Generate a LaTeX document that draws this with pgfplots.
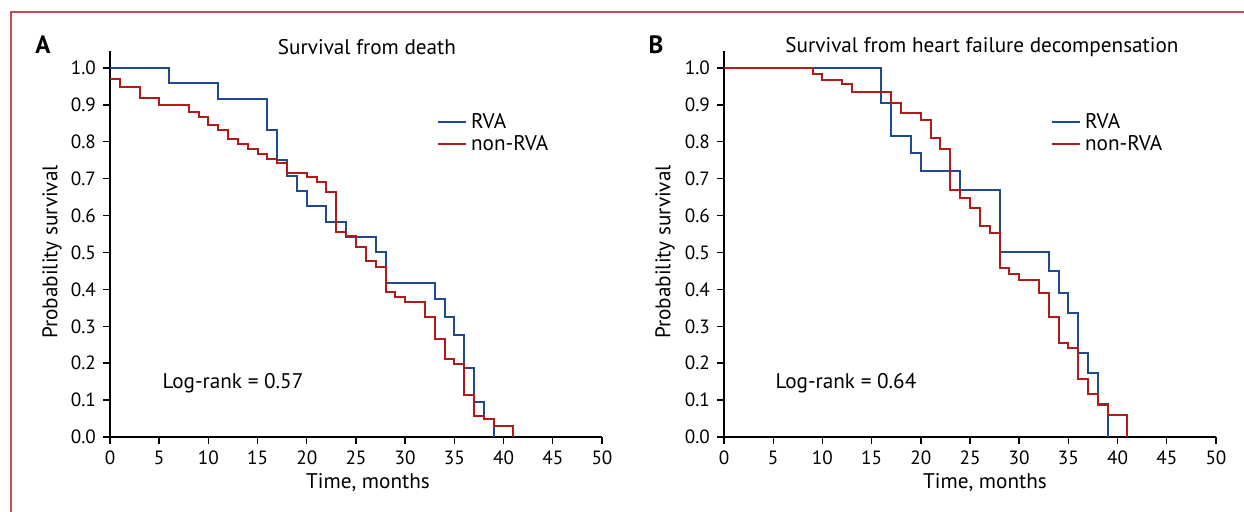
\documentclass[border=0pt]{standalone}
\usepackage{fontspec}
\setmainfont{PT Sans}
\usepackage{pgfplots}
\pgfplotsset{compat=1.18}

\definecolor{rvablue}{RGB}{31,73,145}
\definecolor{nonred}{RGB}{178,26,26}
\definecolor{framered}{RGB}{192,80,77}

\newcommand{\txt}{\fontsize{10.6}{12.5}\selectfont}

\pgfplotsset{
  kmaxis/.style={
    scale only axis,
    width=246pt, height=192.8pt,
    anchor=south west,
    xmin=0, xmax=50, ymin=0, ymax=1.045,
    axis lines=left,
    axis line style={-, line width=0.7pt},
    tick align=outside,
    major tick length=3.5pt,
    tick style={black, line width=0.7pt},
    xtick={0,5,...,50},
    ytick={0,0.1,...,1.0},
    yticklabel style={/pgf/number format/.cd, fixed, fixed zerofill, precision=1},
    /pgf/number format/assume math mode=true,
    ticklabel style={font=\fontsize{9.6}{11}\selectfont},
    clip=false,
    legend style={draw=none, fill=none, inner sep=0pt, row sep=-2pt,
      font=\txt, legend cell align=left},
    legend image code/.code={\draw[#1] (0pt,0pt) -- (14pt,0pt);},
  },
  rva/.style={rvablue, line width=1pt, const plot, mark=none},
  nonrva/.style={nonred, line width=1pt, const plot, mark=none},
}

\begin{document}
\begin{tikzpicture}
\useasboundingbox (0,0) rectangle (622pt,256pt);
\draw[framered, line width=1pt] (5.5pt,0pt) -- (5.5pt,250pt) -- (622pt,250pt);

% Panel A
\begin{axis}[kmaxis, at={(55pt,37.5pt)},
  legend style={at={(axis cs:33.2,0.89)}, anchor=north west}]
\addplot[rva] coordinates {
  (0,1) (6,0.958) (11,0.917) (16,0.833) (17,0.750) (18,0.708) (19,0.667)
  (20,0.625) (22,0.583) (24,0.542) (27,0.500) (28,0.417) (33,0.373)
  (34,0.326) (35,0.276) (36,0.186) (37,0.094) (38,0.048) (39,0)
};
\addlegendentry{RVA}
\addplot[nonrva] coordinates {
  (0,0.970) (1,0.949) (3,0.920) (5,0.900) (8,0.882) (9,0.868) (10,0.846)
  (11,0.832) (12,0.808) (13,0.794) (14,0.781) (15,0.768) (16,0.753)
  (17,0.742) (18,0.716) (20,0.705) (21,0.692) (22,0.665) (23,0.556)
  (24,0.545) (25,0.516) (26,0.477) (27,0.461) (28,0.394) (29,0.380)
  (30,0.365) (32,0.324) (33,0.266) (34,0.211) (35,0.198) (36,0.114)
  (37,0.057) (38,0.048) (39,0.030) (41,0)
};
\addlegendentry{non-RVA}
\node[anchor=west, font=\txt, inner sep=0pt] at (axis cs:5.3,0.146) {Log-rank = 0.57};
\end{axis}

% Panel B
\begin{axis}[kmaxis, at={(362pt,37.5pt)},
  legend style={at={(axis cs:33.2,0.89)}, anchor=north west}]
\addplot[rva] coordinates {
  (0,1) (16,0.906) (17,0.817) (19,0.769) (20,0.722) (24,0.669) (28,0.502)
  (33,0.451) (34,0.391) (35,0.337) (36,0.227) (37,0.173) (38,0.089) (39,0)
};
\addlegendentry{RVA}
\addplot[nonrva] coordinates {
  (0,1) (9,0.984) (10,0.967) (12,0.956) (13,0.936) (17,0.906) (18,0.877)
  (20,0.859) (21,0.811) (22,0.780) (23,0.669) (24,0.649) (25,0.621)
  (26,0.572) (27,0.554) (28,0.457) (29,0.442) (30,0.425) (32,0.391)
  (33,0.326) (34,0.256) (35,0.240) (36,0.156) (37,0.117) (38,0.087)
  (39,0.060) (41,0)
};
\addlegendentry{non-RVA}
\node[anchor=west, font=\txt, inner sep=0pt] at (axis cs:5.2,0.146) {Log-rank = 0.64};
\end{axis}

% panel letters, titles, axis labels
\node[font=\fontsize{12.5}{14}\selectfont\bfseries] at (21.5pt,233.5pt) {A};
\node[font=\fontsize{12.5}{14}\selectfont\bfseries] at (328pt,233.5pt) {B};
\node[font=\txt] at (183.5pt,232.5pt) {Survival from death};
\node[font=\txt] at (491pt,232.5pt) {Survival from heart failure decompensation};
\node[font=\txt, rotate=90] at (26pt,130pt) {Probability survival};
\node[font=\txt, rotate=90] at (332.5pt,130pt) {Probability survival};
\node[font=\txt] at (184pt,14.5pt) {Time, months};
\node[font=\txt] at (492.5pt,14.5pt) {Time, months};
\end{tikzpicture}
\end{document}
